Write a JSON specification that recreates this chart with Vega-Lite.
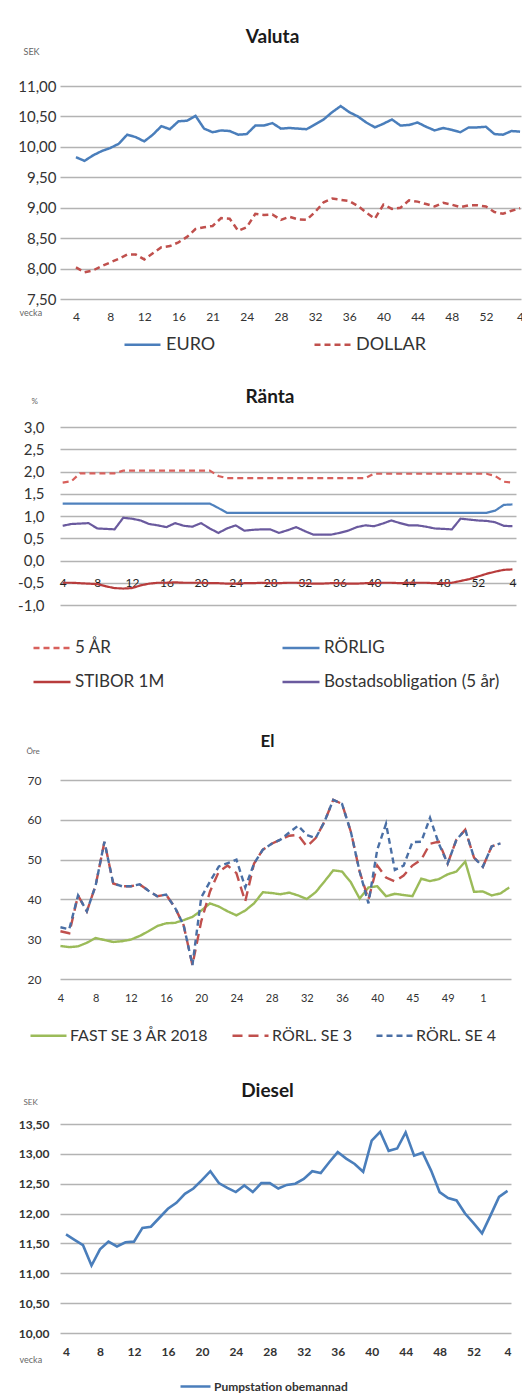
{
"$schema": "https://vega.github.io/schema/vega-lite/v6.json",
"background": "white",
"padding": {"left": 17, "top": 28, "right": 0, "bottom": 0},
"autosize": {"type": "pad"},
"columns": 1,
"spacing": 32,
"bounds": "full",
"resolve": {"scale": {"color": "independent", "strokeDash": "independent", "x": "independent", "y": "independent"}, "legend": {"color": "independent", "strokeDash": "independent"}},
"config": {
  "font": "Lato",
  "view": {"stroke": null},
  "axis": {"domain": false, "ticks": false, "labelColor": "#333333", "titleColor": "#666666", "labelFont": "Lato", "titleFont": "Lato", "gridColor": "#b3b3b3", "gridWidth": 1.5, "labelFlush": false, "labelOverlap": false, "titleFontWeight": "normal"},
  "title": {"font": "Lato", "fontWeight": "bold", "color": "#1a1a1a", "fontSize": 19, "anchor": "middle", "dx": -18},
  "legend": {"labelFont": "Lato", "labelColor": "#333333", "symbolType": "stroke", "labelLimit": 280},
  "line": {"strokeWidth": 2.5}
},
"datasets": {
"valuta": [
{"i":0,"s":"EURO","v":9.83},{"i":1,"s":"EURO","v":9.77},{"i":2,"s":"EURO","v":9.86},{"i":3,"s":"EURO","v":9.93},{"i":4,"s":"EURO","v":9.98},{"i":5,"s":"EURO","v":10.05},{"i":6,"s":"EURO","v":10.20},{"i":7,"s":"EURO","v":10.16},{"i":8,"s":"EURO","v":10.09},{"i":9,"s":"EURO","v":10.20},
{"i":10,"s":"EURO","v":10.34},{"i":11,"s":"EURO","v":10.29},{"i":12,"s":"EURO","v":10.42},{"i":13,"s":"EURO","v":10.43},{"i":14,"s":"EURO","v":10.51},{"i":15,"s":"EURO","v":10.30},{"i":16,"s":"EURO","v":10.24},{"i":17,"s":"EURO","v":10.27},{"i":18,"s":"EURO","v":10.26},{"i":19,"s":"EURO","v":10.20},
{"i":20,"s":"EURO","v":10.21},{"i":21,"s":"EURO","v":10.35},{"i":22,"s":"EURO","v":10.35},{"i":23,"s":"EURO","v":10.39},{"i":24,"s":"EURO","v":10.30},{"i":25,"s":"EURO","v":10.31},{"i":26,"s":"EURO","v":10.30},{"i":27,"s":"EURO","v":10.29},{"i":28,"s":"EURO","v":10.37},{"i":29,"s":"EURO","v":10.45},
{"i":30,"s":"EURO","v":10.57},{"i":31,"s":"EURO","v":10.67},{"i":32,"s":"EURO","v":10.57},{"i":33,"s":"EURO","v":10.50},{"i":34,"s":"EURO","v":10.40},{"i":35,"s":"EURO","v":10.32},{"i":36,"s":"EURO","v":10.38},{"i":37,"s":"EURO","v":10.45},{"i":38,"s":"EURO","v":10.35},{"i":39,"s":"EURO","v":10.36},
{"i":40,"s":"EURO","v":10.40},{"i":41,"s":"EURO","v":10.33},{"i":42,"s":"EURO","v":10.27},{"i":43,"s":"EURO","v":10.31},{"i":44,"s":"EURO","v":10.28},{"i":45,"s":"EURO","v":10.24},{"i":46,"s":"EURO","v":10.32},{"i":47,"s":"EURO","v":10.32},{"i":48,"s":"EURO","v":10.33},{"i":49,"s":"EURO","v":10.21},
{"i":50,"s":"EURO","v":10.20},{"i":51,"s":"EURO","v":10.26},{"i":52,"s":"EURO","v":10.25},
{"i":0,"s":"DOLLAR","v":8.02},{"i":1,"s":"DOLLAR","v":7.94},{"i":2,"s":"DOLLAR","v":7.97},{"i":3,"s":"DOLLAR","v":8.04},{"i":4,"s":"DOLLAR","v":8.10},{"i":5,"s":"DOLLAR","v":8.16},{"i":6,"s":"DOLLAR","v":8.23},{"i":7,"s":"DOLLAR","v":8.23},{"i":8,"s":"DOLLAR","v":8.15},{"i":9,"s":"DOLLAR","v":8.25},
{"i":10,"s":"DOLLAR","v":8.35},{"i":11,"s":"DOLLAR","v":8.37},{"i":12,"s":"DOLLAR","v":8.43},{"i":13,"s":"DOLLAR","v":8.52},{"i":14,"s":"DOLLAR","v":8.65},{"i":15,"s":"DOLLAR","v":8.68},{"i":16,"s":"DOLLAR","v":8.70},{"i":17,"s":"DOLLAR","v":8.83},{"i":18,"s":"DOLLAR","v":8.82},{"i":19,"s":"DOLLAR","v":8.62},
{"i":20,"s":"DOLLAR","v":8.68},{"i":21,"s":"DOLLAR","v":8.90},{"i":22,"s":"DOLLAR","v":8.88},{"i":23,"s":"DOLLAR","v":8.89},{"i":24,"s":"DOLLAR","v":8.80},{"i":25,"s":"DOLLAR","v":8.85},{"i":26,"s":"DOLLAR","v":8.81},{"i":27,"s":"DOLLAR","v":8.80},{"i":28,"s":"DOLLAR","v":8.93},{"i":29,"s":"DOLLAR","v":9.09},
{"i":30,"s":"DOLLAR","v":9.15},{"i":31,"s":"DOLLAR","v":9.13},{"i":32,"s":"DOLLAR","v":9.11},{"i":33,"s":"DOLLAR","v":9.03},{"i":34,"s":"DOLLAR","v":8.92},{"i":35,"s":"DOLLAR","v":8.82},{"i":36,"s":"DOLLAR","v":9.05},{"i":37,"s":"DOLLAR","v":8.98},{"i":38,"s":"DOLLAR","v":9.00},{"i":39,"s":"DOLLAR","v":9.12},
{"i":40,"s":"DOLLAR","v":9.10},{"i":41,"s":"DOLLAR","v":9.06},{"i":42,"s":"DOLLAR","v":9.02},{"i":43,"s":"DOLLAR","v":9.08},{"i":44,"s":"DOLLAR","v":9.05},{"i":45,"s":"DOLLAR","v":9.01},{"i":46,"s":"DOLLAR","v":9.04},{"i":47,"s":"DOLLAR","v":9.04},{"i":48,"s":"DOLLAR","v":9.02},{"i":49,"s":"DOLLAR","v":8.93},
{"i":50,"s":"DOLLAR","v":8.90},{"i":51,"s":"DOLLAR","v":8.95},{"i":52,"s":"DOLLAR","v":8.99}
],
"ranta": [
{"i":0,"s":"5 ÅR","v":1.75},{"i":1,"s":"5 ÅR","v":1.78},{"i":2,"s":"5 ÅR","v":1.96},{"i":3,"s":"5 ÅR","v":1.96},{"i":4,"s":"5 ÅR","v":1.96},{"i":5,"s":"5 ÅR","v":1.96},{"i":6,"s":"5 ÅR","v":1.96},{"i":7,"s":"5 ÅR","v":2.02},{"i":8,"s":"5 ÅR","v":2.02},{"i":9,"s":"5 ÅR","v":2.02},
{"i":10,"s":"5 ÅR","v":2.02},{"i":11,"s":"5 ÅR","v":2.02},{"i":12,"s":"5 ÅR","v":2.02},{"i":13,"s":"5 ÅR","v":2.02},{"i":14,"s":"5 ÅR","v":2.02},{"i":15,"s":"5 ÅR","v":2.02},{"i":16,"s":"5 ÅR","v":2.02},{"i":17,"s":"5 ÅR","v":2.02},{"i":18,"s":"5 ÅR","v":1.90},{"i":19,"s":"5 ÅR","v":1.85},
{"i":20,"s":"5 ÅR","v":1.85},{"i":21,"s":"5 ÅR","v":1.85},{"i":22,"s":"5 ÅR","v":1.85},{"i":23,"s":"5 ÅR","v":1.85},{"i":24,"s":"5 ÅR","v":1.85},{"i":25,"s":"5 ÅR","v":1.85},{"i":26,"s":"5 ÅR","v":1.85},{"i":27,"s":"5 ÅR","v":1.85},{"i":28,"s":"5 ÅR","v":1.85},{"i":29,"s":"5 ÅR","v":1.85},
{"i":30,"s":"5 ÅR","v":1.85},{"i":31,"s":"5 ÅR","v":1.85},{"i":32,"s":"5 ÅR","v":1.85},{"i":33,"s":"5 ÅR","v":1.85},{"i":34,"s":"5 ÅR","v":1.85},{"i":35,"s":"5 ÅR","v":1.85},{"i":36,"s":"5 ÅR","v":1.95},{"i":37,"s":"5 ÅR","v":1.95},{"i":38,"s":"5 ÅR","v":1.95},{"i":39,"s":"5 ÅR","v":1.95},
{"i":40,"s":"5 ÅR","v":1.95},{"i":41,"s":"5 ÅR","v":1.95},{"i":42,"s":"5 ÅR","v":1.95},{"i":43,"s":"5 ÅR","v":1.95},{"i":44,"s":"5 ÅR","v":1.95},{"i":45,"s":"5 ÅR","v":1.95},{"i":46,"s":"5 ÅR","v":1.95},{"i":47,"s":"5 ÅR","v":1.95},{"i":48,"s":"5 ÅR","v":1.95},{"i":49,"s":"5 ÅR","v":1.95},
{"i":50,"s":"5 ÅR","v":1.90},{"i":51,"s":"5 ÅR","v":1.77},{"i":52,"s":"5 ÅR","v":1.75},
{"i":0,"s":"RÖRLIG","v":1.28},{"i":1,"s":"RÖRLIG","v":1.28},{"i":2,"s":"RÖRLIG","v":1.28},{"i":3,"s":"RÖRLIG","v":1.28},{"i":4,"s":"RÖRLIG","v":1.28},{"i":5,"s":"RÖRLIG","v":1.28},{"i":6,"s":"RÖRLIG","v":1.28},{"i":7,"s":"RÖRLIG","v":1.28},{"i":8,"s":"RÖRLIG","v":1.28},{"i":9,"s":"RÖRLIG","v":1.28},
{"i":10,"s":"RÖRLIG","v":1.28},{"i":11,"s":"RÖRLIG","v":1.28},{"i":12,"s":"RÖRLIG","v":1.28},{"i":13,"s":"RÖRLIG","v":1.28},{"i":14,"s":"RÖRLIG","v":1.28},{"i":15,"s":"RÖRLIG","v":1.28},{"i":16,"s":"RÖRLIG","v":1.28},{"i":17,"s":"RÖRLIG","v":1.28},{"i":18,"s":"RÖRLIG","v":1.18},{"i":19,"s":"RÖRLIG","v":1.07},
{"i":20,"s":"RÖRLIG","v":1.07},{"i":21,"s":"RÖRLIG","v":1.07},{"i":22,"s":"RÖRLIG","v":1.07},{"i":23,"s":"RÖRLIG","v":1.07},{"i":24,"s":"RÖRLIG","v":1.07},{"i":25,"s":"RÖRLIG","v":1.07},{"i":26,"s":"RÖRLIG","v":1.07},{"i":27,"s":"RÖRLIG","v":1.07},{"i":28,"s":"RÖRLIG","v":1.07},{"i":29,"s":"RÖRLIG","v":1.07},
{"i":30,"s":"RÖRLIG","v":1.07},{"i":31,"s":"RÖRLIG","v":1.07},{"i":32,"s":"RÖRLIG","v":1.07},{"i":33,"s":"RÖRLIG","v":1.07},{"i":34,"s":"RÖRLIG","v":1.07},{"i":35,"s":"RÖRLIG","v":1.07},{"i":36,"s":"RÖRLIG","v":1.07},{"i":37,"s":"RÖRLIG","v":1.07},{"i":38,"s":"RÖRLIG","v":1.07},{"i":39,"s":"RÖRLIG","v":1.07},
{"i":40,"s":"RÖRLIG","v":1.07},{"i":41,"s":"RÖRLIG","v":1.07},{"i":42,"s":"RÖRLIG","v":1.07},{"i":43,"s":"RÖRLIG","v":1.07},{"i":44,"s":"RÖRLIG","v":1.07},{"i":45,"s":"RÖRLIG","v":1.07},{"i":46,"s":"RÖRLIG","v":1.07},{"i":47,"s":"RÖRLIG","v":1.07},{"i":48,"s":"RÖRLIG","v":1.07},{"i":49,"s":"RÖRLIG","v":1.07},
{"i":50,"s":"RÖRLIG","v":1.12},{"i":51,"s":"RÖRLIG","v":1.25},{"i":52,"s":"RÖRLIG","v":1.26},
{"i":0,"s":"STIBOR 1M","v":-0.50},{"i":1,"s":"STIBOR 1M","v":-0.50},{"i":2,"s":"STIBOR 1M","v":-0.51},{"i":3,"s":"STIBOR 1M","v":-0.52},{"i":4,"s":"STIBOR 1M","v":-0.53},{"i":5,"s":"STIBOR 1M","v":-0.58},{"i":6,"s":"STIBOR 1M","v":-0.62},{"i":7,"s":"STIBOR 1M","v":-0.63},{"i":8,"s":"STIBOR 1M","v":-0.62},{"i":9,"s":"STIBOR 1M","v":-0.56},
{"i":10,"s":"STIBOR 1M","v":-0.52},{"i":11,"s":"STIBOR 1M","v":-0.50},{"i":12,"s":"STIBOR 1M","v":-0.50},{"i":13,"s":"STIBOR 1M","v":-0.49},{"i":14,"s":"STIBOR 1M","v":-0.50},{"i":15,"s":"STIBOR 1M","v":-0.50},{"i":16,"s":"STIBOR 1M","v":-0.50},{"i":17,"s":"STIBOR 1M","v":-0.51},{"i":18,"s":"STIBOR 1M","v":-0.51},{"i":19,"s":"STIBOR 1M","v":-0.52},
{"i":20,"s":"STIBOR 1M","v":-0.52},{"i":21,"s":"STIBOR 1M","v":-0.51},{"i":22,"s":"STIBOR 1M","v":-0.51},{"i":23,"s":"STIBOR 1M","v":-0.50},{"i":24,"s":"STIBOR 1M","v":-0.51},{"i":25,"s":"STIBOR 1M","v":-0.51},{"i":26,"s":"STIBOR 1M","v":-0.50},{"i":27,"s":"STIBOR 1M","v":-0.50},{"i":28,"s":"STIBOR 1M","v":-0.51},{"i":29,"s":"STIBOR 1M","v":-0.52},
{"i":30,"s":"STIBOR 1M","v":-0.52},{"i":31,"s":"STIBOR 1M","v":-0.51},{"i":32,"s":"STIBOR 1M","v":-0.51},{"i":33,"s":"STIBOR 1M","v":-0.52},{"i":34,"s":"STIBOR 1M","v":-0.52},{"i":35,"s":"STIBOR 1M","v":-0.51},{"i":36,"s":"STIBOR 1M","v":-0.51},{"i":37,"s":"STIBOR 1M","v":-0.50},{"i":38,"s":"STIBOR 1M","v":-0.50},{"i":39,"s":"STIBOR 1M","v":-0.51},
{"i":40,"s":"STIBOR 1M","v":-0.50},{"i":41,"s":"STIBOR 1M","v":-0.50},{"i":42,"s":"STIBOR 1M","v":-0.50},{"i":43,"s":"STIBOR 1M","v":-0.51},{"i":44,"s":"STIBOR 1M","v":-0.51},{"i":45,"s":"STIBOR 1M","v":-0.50},{"i":46,"s":"STIBOR 1M","v":-0.46},{"i":47,"s":"STIBOR 1M","v":-0.42},{"i":48,"s":"STIBOR 1M","v":-0.36},{"i":49,"s":"STIBOR 1M","v":-0.30},
{"i":50,"s":"STIBOR 1M","v":-0.25},{"i":51,"s":"STIBOR 1M","v":-0.21},{"i":52,"s":"STIBOR 1M","v":-0.20},
{"i":0,"s":"Bostadsobligation (5 år)","v":0.78},{"i":1,"s":"Bostadsobligation (5 år)","v":0.82},{"i":2,"s":"Bostadsobligation (5 år)","v":0.83},{"i":3,"s":"Bostadsobligation (5 år)","v":0.84},{"i":4,"s":"Bostadsobligation (5 år)","v":0.72},{"i":5,"s":"Bostadsobligation (5 år)","v":0.71},{"i":6,"s":"Bostadsobligation (5 år)","v":0.70},{"i":7,"s":"Bostadsobligation (5 år)","v":0.96},{"i":8,"s":"Bostadsobligation (5 år)","v":0.94},{"i":9,"s":"Bostadsobligation (5 år)","v":0.90},
{"i":10,"s":"Bostadsobligation (5 år)","v":0.82},{"i":11,"s":"Bostadsobligation (5 år)","v":0.79},{"i":12,"s":"Bostadsobligation (5 år)","v":0.75},{"i":13,"s":"Bostadsobligation (5 år)","v":0.84},{"i":14,"s":"Bostadsobligation (5 år)","v":0.78},{"i":15,"s":"Bostadsobligation (5 år)","v":0.76},{"i":16,"s":"Bostadsobligation (5 år)","v":0.84},{"i":17,"s":"Bostadsobligation (5 år)","v":0.72},{"i":18,"s":"Bostadsobligation (5 år)","v":0.62},{"i":19,"s":"Bostadsobligation (5 år)","v":0.72},
{"i":20,"s":"Bostadsobligation (5 år)","v":0.79},{"i":21,"s":"Bostadsobligation (5 år)","v":0.67},{"i":22,"s":"Bostadsobligation (5 år)","v":0.69},{"i":23,"s":"Bostadsobligation (5 år)","v":0.70},{"i":24,"s":"Bostadsobligation (5 år)","v":0.70},{"i":25,"s":"Bostadsobligation (5 år)","v":0.62},{"i":26,"s":"Bostadsobligation (5 år)","v":0.68},{"i":27,"s":"Bostadsobligation (5 år)","v":0.75},{"i":28,"s":"Bostadsobligation (5 år)","v":0.66},{"i":29,"s":"Bostadsobligation (5 år)","v":0.58},
{"i":30,"s":"Bostadsobligation (5 år)","v":0.58},{"i":31,"s":"Bostadsobligation (5 år)","v":0.58},{"i":32,"s":"Bostadsobligation (5 år)","v":0.62},{"i":33,"s":"Bostadsobligation (5 år)","v":0.67},{"i":34,"s":"Bostadsobligation (5 år)","v":0.75},{"i":35,"s":"Bostadsobligation (5 år)","v":0.79},{"i":36,"s":"Bostadsobligation (5 år)","v":0.77},{"i":37,"s":"Bostadsobligation (5 år)","v":0.83},{"i":38,"s":"Bostadsobligation (5 år)","v":0.90},{"i":39,"s":"Bostadsobligation (5 år)","v":0.84},
{"i":40,"s":"Bostadsobligation (5 år)","v":0.79},{"i":41,"s":"Bostadsobligation (5 år)","v":0.79},{"i":42,"s":"Bostadsobligation (5 år)","v":0.76},{"i":43,"s":"Bostadsobligation (5 år)","v":0.72},{"i":44,"s":"Bostadsobligation (5 år)","v":0.71},{"i":45,"s":"Bostadsobligation (5 år)","v":0.70},{"i":46,"s":"Bostadsobligation (5 år)","v":0.94},{"i":47,"s":"Bostadsobligation (5 år)","v":0.92},{"i":48,"s":"Bostadsobligation (5 år)","v":0.90},{"i":49,"s":"Bostadsobligation (5 år)","v":0.89},
{"i":50,"s":"Bostadsobligation (5 år)","v":0.86},{"i":51,"s":"Bostadsobligation (5 år)","v":0.78},{"i":52,"s":"Bostadsobligation (5 år)","v":0.77}
],
"el": [
{"i":0,"s":"FAST SE 3 ÅR 2018","v":28.3},{"i":1,"s":"FAST SE 3 ÅR 2018","v":28.0},{"i":2,"s":"FAST SE 3 ÅR 2018","v":28.2},{"i":3,"s":"FAST SE 3 ÅR 2018","v":29.1},{"i":4,"s":"FAST SE 3 ÅR 2018","v":30.3},{"i":5,"s":"FAST SE 3 ÅR 2018","v":29.8},{"i":6,"s":"FAST SE 3 ÅR 2018","v":29.3},{"i":7,"s":"FAST SE 3 ÅR 2018","v":29.5},{"i":8,"s":"FAST SE 3 ÅR 2018","v":29.9},{"i":9,"s":"FAST SE 3 ÅR 2018","v":30.8},
{"i":10,"s":"FAST SE 3 ÅR 2018","v":32.0},{"i":11,"s":"FAST SE 3 ÅR 2018","v":33.3},{"i":12,"s":"FAST SE 3 ÅR 2018","v":34.0},{"i":13,"s":"FAST SE 3 ÅR 2018","v":34.1},{"i":14,"s":"FAST SE 3 ÅR 2018","v":34.8},{"i":15,"s":"FAST SE 3 ÅR 2018","v":35.6},{"i":16,"s":"FAST SE 3 ÅR 2018","v":37.2},{"i":17,"s":"FAST SE 3 ÅR 2018","v":39.0},{"i":18,"s":"FAST SE 3 ÅR 2018","v":38.2},{"i":19,"s":"FAST SE 3 ÅR 2018","v":37.0},
{"i":20,"s":"FAST SE 3 ÅR 2018","v":36.0},{"i":21,"s":"FAST SE 3 ÅR 2018","v":37.2},{"i":22,"s":"FAST SE 3 ÅR 2018","v":39.0},{"i":23,"s":"FAST SE 3 ÅR 2018","v":41.8},{"i":24,"s":"FAST SE 3 ÅR 2018","v":41.6},{"i":25,"s":"FAST SE 3 ÅR 2018","v":41.3},{"i":26,"s":"FAST SE 3 ÅR 2018","v":41.7},{"i":27,"s":"FAST SE 3 ÅR 2018","v":41.0},{"i":28,"s":"FAST SE 3 ÅR 2018","v":40.1},{"i":29,"s":"FAST SE 3 ÅR 2018","v":41.8},
{"i":30,"s":"FAST SE 3 ÅR 2018","v":44.5},{"i":31,"s":"FAST SE 3 ÅR 2018","v":47.3},{"i":32,"s":"FAST SE 3 ÅR 2018","v":47.0},{"i":33,"s":"FAST SE 3 ÅR 2018","v":44.3},{"i":34,"s":"FAST SE 3 ÅR 2018","v":40.2},{"i":35,"s":"FAST SE 3 ÅR 2018","v":43.0},{"i":36,"s":"FAST SE 3 ÅR 2018","v":43.3},{"i":37,"s":"FAST SE 3 ÅR 2018","v":40.8},{"i":38,"s":"FAST SE 3 ÅR 2018","v":41.4},{"i":39,"s":"FAST SE 3 ÅR 2018","v":41.1},
{"i":40,"s":"FAST SE 3 ÅR 2018","v":40.8},{"i":41,"s":"FAST SE 3 ÅR 2018","v":45.2},{"i":42,"s":"FAST SE 3 ÅR 2018","v":44.6},{"i":43,"s":"FAST SE 3 ÅR 2018","v":45.1},{"i":44,"s":"FAST SE 3 ÅR 2018","v":46.3},{"i":45,"s":"FAST SE 3 ÅR 2018","v":47.0},{"i":46,"s":"FAST SE 3 ÅR 2018","v":49.5},{"i":47,"s":"FAST SE 3 ÅR 2018","v":41.9},{"i":48,"s":"FAST SE 3 ÅR 2018","v":42.0},{"i":49,"s":"FAST SE 3 ÅR 2018","v":41.0},
{"i":50,"s":"FAST SE 3 ÅR 2018","v":41.5},{"i":51,"s":"FAST SE 3 ÅR 2018","v":43.0},
{"i":0,"s":"RÖRL. SE 3","v":32.0},{"i":1,"s":"RÖRL. SE 3","v":31.5},{"i":2,"s":"RÖRL. SE 3","v":41.0},{"i":3,"s":"RÖRL. SE 3","v":37.0},{"i":4,"s":"RÖRL. SE 3","v":43.5},{"i":5,"s":"RÖRL. SE 3","v":54.5},{"i":6,"s":"RÖRL. SE 3","v":44.0},{"i":7,"s":"RÖRL. SE 3","v":43.3},{"i":8,"s":"RÖRL. SE 3","v":43.3},{"i":9,"s":"RÖRL. SE 3","v":43.8},
{"i":10,"s":"RÖRL. SE 3","v":42.2},{"i":11,"s":"RÖRL. SE 3","v":40.8},{"i":12,"s":"RÖRL. SE 3","v":41.2},{"i":13,"s":"RÖRL. SE 3","v":38.0},{"i":14,"s":"RÖRL. SE 3","v":33.5},{"i":15,"s":"RÖRL. SE 3","v":23.5},{"i":16,"s":"RÖRL. SE 3","v":34.5},{"i":17,"s":"RÖRL. SE 3","v":42.0},{"i":18,"s":"RÖRL. SE 3","v":47.0},{"i":19,"s":"RÖRL. SE 3","v":48.5},
{"i":20,"s":"RÖRL. SE 3","v":46.6},{"i":21,"s":"RÖRL. SE 3","v":39.5},{"i":22,"s":"RÖRL. SE 3","v":49.0},{"i":23,"s":"RÖRL. SE 3","v":52.5},{"i":24,"s":"RÖRL. SE 3","v":54.0},{"i":25,"s":"RÖRL. SE 3","v":55.0},{"i":26,"s":"RÖRL. SE 3","v":56.0},{"i":27,"s":"RÖRL. SE 3","v":56.2},{"i":28,"s":"RÖRL. SE 3","v":53.3},{"i":29,"s":"RÖRL. SE 3","v":55.4},
{"i":30,"s":"RÖRL. SE 3","v":59.5},{"i":31,"s":"RÖRL. SE 3","v":65.0},{"i":32,"s":"RÖRL. SE 3","v":64.0},{"i":33,"s":"RÖRL. SE 3","v":57.0},{"i":34,"s":"RÖRL. SE 3","v":47.0},{"i":35,"s":"RÖRL. SE 3","v":40.0},{"i":36,"s":"RÖRL. SE 3","v":48.5},{"i":37,"s":"RÖRL. SE 3","v":45.5},{"i":38,"s":"RÖRL. SE 3","v":44.5},{"i":39,"s":"RÖRL. SE 3","v":46.0},
{"i":40,"s":"RÖRL. SE 3","v":48.5},{"i":41,"s":"RÖRL. SE 3","v":50.0},{"i":42,"s":"RÖRL. SE 3","v":54.0},{"i":43,"s":"RÖRL. SE 3","v":54.5},{"i":44,"s":"RÖRL. SE 3","v":49.0},{"i":45,"s":"RÖRL. SE 3","v":55.0},{"i":46,"s":"RÖRL. SE 3","v":57.5},{"i":47,"s":"RÖRL. SE 3","v":50.5},{"i":48,"s":"RÖRL. SE 3","v":48.2},{"i":49,"s":"RÖRL. SE 3","v":53.3},
{"i":50,"s":"RÖRL. SE 3","v":54.1},
{"i":0,"s":"RÖRL. SE 4","v":33.0},{"i":1,"s":"RÖRL. SE 4","v":32.5},{"i":2,"s":"RÖRL. SE 4","v":41.0},{"i":3,"s":"RÖRL. SE 4","v":37.0},{"i":4,"s":"RÖRL. SE 4","v":43.5},{"i":5,"s":"RÖRL. SE 4","v":54.5},{"i":6,"s":"RÖRL. SE 4","v":44.0},{"i":7,"s":"RÖRL. SE 4","v":43.3},{"i":8,"s":"RÖRL. SE 4","v":43.3},{"i":9,"s":"RÖRL. SE 4","v":43.8},
{"i":10,"s":"RÖRL. SE 4","v":42.2},{"i":11,"s":"RÖRL. SE 4","v":40.8},{"i":12,"s":"RÖRL. SE 4","v":41.2},{"i":13,"s":"RÖRL. SE 4","v":38.0},{"i":14,"s":"RÖRL. SE 4","v":33.5},{"i":15,"s":"RÖRL. SE 4","v":23.5},{"i":16,"s":"RÖRL. SE 4","v":40.5},{"i":17,"s":"RÖRL. SE 4","v":44.5},{"i":18,"s":"RÖRL. SE 4","v":48.3},{"i":19,"s":"RÖRL. SE 4","v":49.1},
{"i":20,"s":"RÖRL. SE 4","v":50.0},{"i":21,"s":"RÖRL. SE 4","v":43.0},{"i":22,"s":"RÖRL. SE 4","v":49.0},{"i":23,"s":"RÖRL. SE 4","v":52.5},{"i":24,"s":"RÖRL. SE 4","v":54.0},{"i":25,"s":"RÖRL. SE 4","v":55.0},{"i":26,"s":"RÖRL. SE 4","v":56.8},{"i":27,"s":"RÖRL. SE 4","v":58.5},{"i":28,"s":"RÖRL. SE 4","v":56.2},{"i":29,"s":"RÖRL. SE 4","v":55.4},
{"i":30,"s":"RÖRL. SE 4","v":59.5},{"i":31,"s":"RÖRL. SE 4","v":65.0},{"i":32,"s":"RÖRL. SE 4","v":64.0},{"i":33,"s":"RÖRL. SE 4","v":57.0},{"i":34,"s":"RÖRL. SE 4","v":47.0},{"i":35,"s":"RÖRL. SE 4","v":39.0},{"i":36,"s":"RÖRL. SE 4","v":52.5},{"i":37,"s":"RÖRL. SE 4","v":59.0},{"i":38,"s":"RÖRL. SE 4","v":47.4},{"i":39,"s":"RÖRL. SE 4","v":48.5},
{"i":40,"s":"RÖRL. SE 4","v":54.4},{"i":41,"s":"RÖRL. SE 4","v":54.5},{"i":42,"s":"RÖRL. SE 4","v":60.5},{"i":43,"s":"RÖRL. SE 4","v":54.0},{"i":44,"s":"RÖRL. SE 4","v":49.0},{"i":45,"s":"RÖRL. SE 4","v":55.0},{"i":46,"s":"RÖRL. SE 4","v":57.5},{"i":47,"s":"RÖRL. SE 4","v":50.5},{"i":48,"s":"RÖRL. SE 4","v":48.2},{"i":49,"s":"RÖRL. SE 4","v":53.3},
{"i":50,"s":"RÖRL. SE 4","v":54.1}
],
"diesel": [
{"i":0,"s":"Pumpstation obemannad","v":11.65},{"i":1,"s":"Pumpstation obemannad","v":11.56},{"i":2,"s":"Pumpstation obemannad","v":11.47},{"i":3,"s":"Pumpstation obemannad","v":11.13},{"i":4,"s":"Pumpstation obemannad","v":11.40},{"i":5,"s":"Pumpstation obemannad","v":11.53},{"i":6,"s":"Pumpstation obemannad","v":11.45},{"i":7,"s":"Pumpstation obemannad","v":11.52},{"i":8,"s":"Pumpstation obemannad","v":11.53},{"i":9,"s":"Pumpstation obemannad","v":11.76},
{"i":10,"s":"Pumpstation obemannad","v":11.78},{"i":11,"s":"Pumpstation obemannad","v":11.93},{"i":12,"s":"Pumpstation obemannad","v":12.08},{"i":13,"s":"Pumpstation obemannad","v":12.18},{"i":14,"s":"Pumpstation obemannad","v":12.33},{"i":15,"s":"Pumpstation obemannad","v":12.42},{"i":16,"s":"Pumpstation obemannad","v":12.56},{"i":17,"s":"Pumpstation obemannad","v":12.71},{"i":18,"s":"Pumpstation obemannad","v":12.51},{"i":19,"s":"Pumpstation obemannad","v":12.43},
{"i":20,"s":"Pumpstation obemannad","v":12.36},{"i":21,"s":"Pumpstation obemannad","v":12.47},{"i":22,"s":"Pumpstation obemannad","v":12.36},{"i":23,"s":"Pumpstation obemannad","v":12.51},{"i":24,"s":"Pumpstation obemannad","v":12.51},{"i":25,"s":"Pumpstation obemannad","v":12.42},{"i":26,"s":"Pumpstation obemannad","v":12.48},{"i":27,"s":"Pumpstation obemannad","v":12.50},{"i":28,"s":"Pumpstation obemannad","v":12.58},{"i":29,"s":"Pumpstation obemannad","v":12.71},
{"i":30,"s":"Pumpstation obemannad","v":12.68},{"i":31,"s":"Pumpstation obemannad","v":12.86},{"i":32,"s":"Pumpstation obemannad","v":13.03},{"i":33,"s":"Pumpstation obemannad","v":12.92},{"i":34,"s":"Pumpstation obemannad","v":12.83},{"i":35,"s":"Pumpstation obemannad","v":12.70},{"i":36,"s":"Pumpstation obemannad","v":13.22},{"i":37,"s":"Pumpstation obemannad","v":13.37},{"i":38,"s":"Pumpstation obemannad","v":13.05},{"i":39,"s":"Pumpstation obemannad","v":13.09},
{"i":40,"s":"Pumpstation obemannad","v":13.36},{"i":41,"s":"Pumpstation obemannad","v":12.97},{"i":42,"s":"Pumpstation obemannad","v":13.02},{"i":43,"s":"Pumpstation obemannad","v":12.72},{"i":44,"s":"Pumpstation obemannad","v":12.36},{"i":45,"s":"Pumpstation obemannad","v":12.26},{"i":46,"s":"Pumpstation obemannad","v":12.22},{"i":47,"s":"Pumpstation obemannad","v":12.00},{"i":48,"s":"Pumpstation obemannad","v":11.84},{"i":49,"s":"Pumpstation obemannad","v":11.67},
{"i":50,"s":"Pumpstation obemannad","v":11.97},{"i":51,"s":"Pumpstation obemannad","v":12.28},{"i":52,"s":"Pumpstation obemannad","v":12.38}
]
},
"concat": [
{
  "width": 461, "height": 213,
  "title": {"text": "Valuta", "offset": 0},
  "data": {"name": "valuta"},
  "mark": {"type": "line", "strokeWidth": 2.5},
  "encoding": {
    "x": {"field": "i", "type": "quantitative", "scale": {"domain": [-1.87, 52.11], "nice": false, "zero": false},
      "axis": {"values": [0,4,8,12,16,20,24,28,32,36,40,44,48,52], "labelExpr": "['4','8','12','16','21','24','28','32','36','40','44','48','52','4'][round(datum.value/4)]", "grid": false, "labelFontSize": 12, "labelPadding": 12, "title": "vecka", "titleAngle": 0, "titleAlign": "left", "titleBaseline": "middle", "titleX": -41, "titleY": 13, "titleFontSize": 9}},
    "y": {"field": "v", "type": "quantitative", "scale": {"domain": [7.5, 11], "nice": false, "zero": false},
      "axis": {"values": [7.5,8,8.5,9,9.5,10,10.5,11], "labelExpr": "replace(format(datum.value,'.2f'),'.',',')", "grid": true, "labelFontSize": 15, "labelPadding": 4, "title": "SEK", "titleAngle": 0, "titleAlign": "left", "titleBaseline": "middle", "titleX": -37, "titleY": -35, "titleFontSize": 9}},
    "color": {"field": "s", "type": "nominal", "scale": {"domain": ["EURO","DOLLAR"], "range": ["#4a7ebb","#c0504d"]},
      "legend": {"title": null, "orient": "none", "legendX": 61, "legendY": 237, "padding": 2, "direction": "horizontal", "symbolSize": 1296, "symbolStrokeWidth": 2.5, "labelFontSize": 18, "columnPadding": 93, "labelOffset": 4}},
    "strokeDash": {"field": "s", "type": "nominal", "scale": {"domain": ["EURO","DOLLAR"], "range": [[1,0],[6,4]]}}
  }
},
{
  "width": 456, "height": 178,
  "title": {"text": "Ränta", "offset": -10},
  "data": {"name": "ranta"},
  "mark": {"type": "line", "strokeWidth": 2.2},
  "encoding": {
    "x": {"field": "i", "type": "quantitative", "scale": {"domain": [-0.31, 52.41], "nice": false, "zero": false},
      "axis": {"values": [0,4,8,12,16,20,24,28,32,36,40,44,48,52], "labelExpr": "['4','8','12','16','20','24','28','32','36','40','44','48','52','4'][round(datum.value/4)]", "grid": false, "labelFontSize": 12, "labelPadding": 2, "offset": -30, "title": null, "labelColor": "#222222"}},
    "y": {"field": "v", "type": "quantitative", "scale": {"domain": [-1, 3], "nice": false, "zero": false},
      "axis": {"values": [-1,-0.5,0,0.5,1,1.5,2,2.5,3], "labelExpr": "replace(replace(format(datum.value,'.1f'),'.',','),'−','-')", "grid": true, "labelFontSize": 15, "labelPadding": 16, "title": "%", "titleAngle": 0, "titleAlign": "left", "titleBaseline": "middle", "titleX": -29, "titleY": -26, "titleFontSize": 8}},
    "color": {"field": "s", "type": "nominal", "scale": {"domain": ["5 ÅR","RÖRLIG","STIBOR 1M","Bostadsobligation (5 år)"], "range": ["#d8605c","#4f81bd","#b83c3c","#6a5a9e"]},
      "legend": {"title": null, "orient": "none", "legendX": -39, "legendY": 190, "padding": 11, "direction": "horizontal", "columns": 2, "symbolSize": 1369, "symbolStrokeWidth": 2.2, "labelFontSize": 17, "columnPadding": 112, "rowPadding": 6, "labelOffset": 3}},
    "strokeDash": {"field": "s", "type": "nominal", "scale": {"domain": ["5 ÅR","RÖRLIG","STIBOR 1M","Bostadsobligation (5 år)"], "range": [[6,4],[1,0],[1,0],[1,0]]}}
  }
},
{
  "width": 451, "height": 199,
  "title": {"text": "El", "offset": -4, "fontSize": 17},
  "data": {"name": "el"},
  "mark": {"type": "line", "strokeWidth": 2.4},
  "encoding": {
    "x": {"field": "i", "type": "quantitative", "scale": {"domain": [-0.05, 51.2], "nice": false, "zero": false},
      "axis": {"values": [0,4,8,12,16,20,24,28,32,36,40,44,48], "labelExpr": "['4','8','12','16','20','24','28','32','36','40','45','49','1'][round(datum.value/4)]", "grid": false, "labelFontSize": 11, "labelPadding": 13, "title": null}},
    "y": {"field": "v", "type": "quantitative", "scale": {"domain": [20, 70], "nice": false, "zero": false},
      "axis": {"values": [20,30,40,50,60,70], "grid": true, "labelFontSize": 12, "labelPadding": 19, "title": "Öre", "titleAngle": 0, "titleAlign": "left", "titleBaseline": "middle", "titleX": -34, "titleY": -29, "titleFontSize": 8}},
    "color": {"field": "s", "type": "nominal", "scale": {"domain": ["FAST SE 3 ÅR 2018","RÖRL. SE 3","RÖRL. SE 4"], "range": ["#9bbb59","#c0504d","#4a6fa5"]},
      "legend": {"title": null, "orient": "none", "legendX": -37, "legendY": 230, "padding": 6, "direction": "horizontal", "symbolSize": 1296, "symbolStrokeWidth": 2.2, "labelFontSize": 16, "columnPadding": 18, "labelOffset": 2}},
    "strokeDash": {"field": "s", "type": "nominal", "scale": {"domain": ["FAST SE 3 ÅR 2018","RÖRL. SE 3","RÖRL. SE 4"], "range": [[1,0],[10,6],[6,4]]}}
  }
},
{
  "width": 451, "height": 209,
  "title": {"text": "Diesel", "offset": -3},
  "data": {"name": "diesel"},
  "mark": {"type": "line", "strokeWidth": 2.6},
  "encoding": {
    "x": {"field": "i", "type": "quantitative", "scale": {"domain": [-0.71, 52.41], "nice": false, "zero": false},
      "axis": {"values": [0,4,8,12,16,20,24,28,32,36,40,44,48,52], "labelExpr": "['4','8','12','16','20','24','28','32','36','40','44','48','52','4'][round(datum.value/4)]", "grid": false, "labelFontSize": 12, "labelFontWeight": "bold", "labelPadding": 13, "title": "vecka", "titleAngle": 0, "titleAlign": "left", "titleBaseline": "middle", "titleX": -41, "titleY": 26, "titleFontSize": 9}},
    "y": {"field": "v", "type": "quantitative", "scale": {"domain": [10, 13.5], "nice": false, "zero": false},
      "axis": {"values": [10,10.5,11,11.5,12,12.5,13,13.5], "labelExpr": "replace(format(datum.value,'.2f'),'.',',')", "grid": true, "labelFontSize": 12, "labelFontWeight": "bold", "labelPadding": 11, "title": "SEK", "titleAngle": 0, "titleAlign": "left", "titleBaseline": "middle", "titleX": -37, "titleY": -22, "titleFontSize": 8}},
    "color": {"field": "s", "type": "nominal", "scale": {"domain": ["Pumpstation obemannad"], "range": ["#4a7ebb"]},
      "legend": {"title": null, "orient": "none", "legendX": 119, "legendY": 246, "direction": "horizontal", "symbolSize": 900, "symbolStrokeWidth": 2.5, "labelFontSize": 12, "labelFontWeight": "bold", "labelOffset": 2}}
  }
}
]
}
